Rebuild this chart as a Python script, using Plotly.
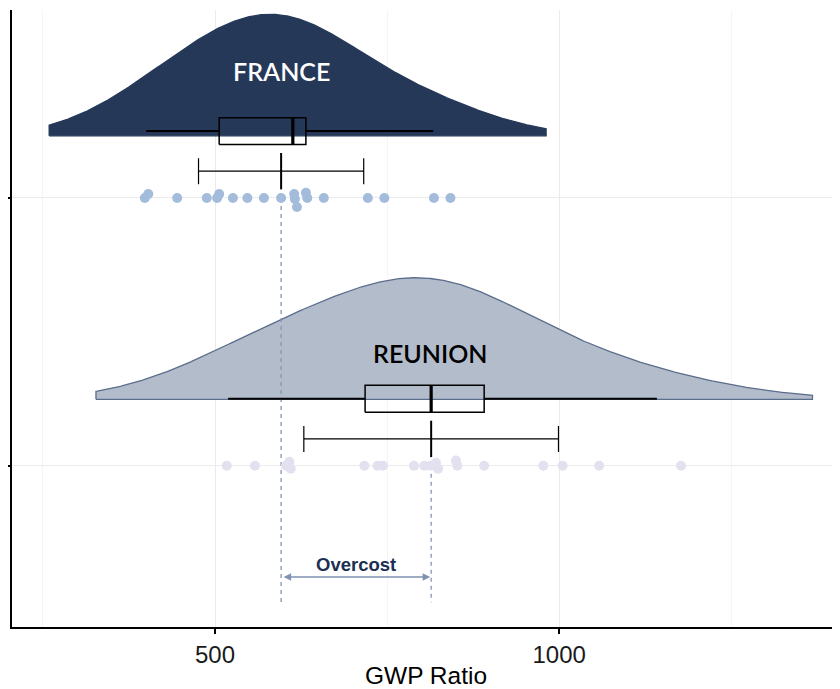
import numpy as np
import plotly.graph_objects as go

# ---------------- data ----------------
groups = ["FRANCE", "REUNION"]
group_pos = [2, 1]

france_points = [398, 403, 445, 488, 503, 506, 526, 547, 571, 596,
                 615, 616, 619, 632, 634, 658, 722, 746, 818, 842]
france_swarm = [0, 0.015, 0, 0, 0, 0.015, 0, 0, 0, 0,
                0.015, -0.004, -0.034, 0.019, 0, 0, 0, 0, 0, 0]
reunion_points = [517, 558, 603, 608, 610, 717, 736, 744, 789, 804,
                  813, 821, 824, 850, 852, 891, 977, 1005, 1058, 1177]
reunion_swarm = [0, 0, 0, 0.015, -0.011, 0, 0, 0, 0, 0,
                 0, 0.011, -0.011, 0.019, 0, 0, 0, 0, 0, 0]

density_range = [[259, 981], [327, 1368]]

box_q1 = [506, 718]
box_median = [613, 814]
box_q3 = [632, 891]
box_lower = [400, 519]
box_upper = [817, 1142]

group_mean = [596, 814]
group_sd = [120, 185]

# ---------------- styling ----------------
density_fill = ["#253858", "#b3bccb"]
density_line = ["#253858", "#5b6d8c"]
point_color = ["#a4bcdc", "#e3e1ef"]
label_color = ["white", "black"]
density_base = [0.232, 0.248]
density_height = 0.454
box_offset = 0.25
box_half = 0.05
err_offset = 0.1
dash_color = "#8296b3"


def nrd0(x):
    x = np.asarray(x, float)
    sd = x.std(ddof=1)
    q75, q25 = np.percentile(x, [75, 25])
    lo = min(sd, (q75 - q25) / 1.34)
    return 0.9 * lo * len(x) ** -0.2


fig = go.Figure()

all_points = [france_points, reunion_points]
all_swarm = [france_swarm, reunion_swarm]

# densities (half-eye)
for i, pts in enumerate(all_points):
    pts = np.asarray(pts, float)
    bw = 2 * nrd0(pts)
    grid = np.linspace(density_range[i][0], density_range[i][1], 500)
    dens = np.exp(-0.5 * ((grid[:, None] - pts[None, :]) / bw) ** 2).sum(axis=1)
    dens = dens / dens.max()
    base = group_pos[i] + density_base[i]
    xs = np.concatenate([[grid[0]], grid, [grid[-1], grid[0]]])
    ys = np.concatenate([[base], base + density_height * dens, [base, base]])
    fig.add_trace(go.Scatter(x=xs, y=ys, mode="lines", fill="toself",
                             fillcolor=density_fill[i],
                             line=dict(color=density_line[i], width=1.3),
                             hoverinfo="skip", showlegend=False))

# dashed mean lines (over densities)
for i in range(2):
    fig.add_trace(go.Scatter(x=[group_mean[i], group_mean[i]], y=[group_pos[i], 0.49],
                             mode="lines", line=dict(color=dash_color, width=1.3, dash="4px,4px"),
                             hoverinfo="skip", showlegend=False))

# boxes (drawn as lines so they sit above the densities)
for i in range(2):
    yc = group_pos[i] + box_offset
    fig.add_trace(go.Scatter(x=[box_lower[i], box_q1[i], None, box_q3[i], box_upper[i]],
                             y=[yc, yc, None, yc, yc], mode="lines",
                             line=dict(color="black", width=1.8),
                             hoverinfo="skip", showlegend=False))
    fig.add_trace(go.Scatter(x=[box_q1[i], box_q3[i], box_q3[i], box_q1[i], box_q1[i]],
                             y=[yc - box_half, yc - box_half, yc + box_half, yc + box_half, yc - box_half],
                             mode="lines", line=dict(color="black", width=1.5),
                             hoverinfo="skip", showlegend=False))
    fig.add_trace(go.Scatter(x=[box_median[i], box_median[i]],
                             y=[yc - box_half, yc + box_half],
                             mode="lines", line=dict(color="black", width=3.2),
                             hoverinfo="skip", showlegend=False))

# mean +- sd error bars
for i in range(2):
    fig.add_trace(go.Scatter(x=[group_mean[i]], y=[group_pos[i] + err_offset], mode="markers",
                             marker=dict(symbol="line-ns", size=26, color="black",
                                         line=dict(color="black", width=2)),
                             error_x=dict(type="data", array=[group_sd[i]], color="black",
                                          thickness=1.2, width=13),
                             hoverinfo="skip", showlegend=False))

# points
for i, pts in enumerate(all_points):
    fig.add_trace(go.Scatter(x=pts, y=[group_pos[i] + s for s in all_swarm[i]], mode="markers",
                             marker=dict(color=point_color[i], size=10),
                             hoverinfo="skip", showlegend=False))

# group labels
label_x = [597, 812]
label_y = [2.474, 1.421]
for i in range(2):
    fig.add_annotation(x=label_x[i], y=label_y[i],
                       text=groups[i], showarrow=False,
                       font=dict(family="Lato", size=25, color=label_color[i], weight=600))

# overcost arrow
fig.add_annotation(x=group_mean[1], y=0.584, ax=group_mean[0], ay=0.584,
                   xref="x", yref="y", axref="x", ayref="y", text="",
                   showarrow=True, arrowhead=2, arrowside="end+start", arrowsize=1,
                   arrowwidth=1.5, arrowcolor="#7f93b0", standoff=1, startstandoff=1)
fig.add_annotation(x=(group_mean[0] + group_mean[1]) / 2, y=0.632, text="<b>Overcost</b>",
                   showarrow=False,
                   font=dict(family="Liberation Sans", size=18.5, color="#1b2f52"))

# the page body adds an 8px offset; compensate in size/margins
fig.update_layout(
    width=832, height=681,
    margin=dict(l=4, r=0, t=2, b=62),
    paper_bgcolor="white", plot_bgcolor="white",
    showlegend=False,
    font=dict(family="Liberation Sans", color="black"),
)
fig.update_xaxes(range=[205, 1408], tick0=0, dtick=500, automargin=False,
                 showgrid=True, gridcolor="#ebebeb", gridwidth=1,
                 minor=dict(dtick=250, showgrid=True, gridcolor="#f5f5f5", gridwidth=1),
                 showline=True, linecolor="black", linewidth=1.8,
                 ticks="outside", ticklen=5, tickwidth=1.5, tickcolor="black",
                 tickfont=dict(size=24, color="#1a1a1a"),
                 title=dict(text="GWP Ratio", font=dict(size=24.5, color="black"), standoff=1),
                 zeroline=False)
fig.update_yaxes(range=[0.3975, 2.702], tickvals=group_pos, showticklabels=False, automargin=False,
                 showgrid=True, gridcolor="#ebebeb", gridwidth=1,
                 showline=True, linecolor="black", linewidth=1.8,
                 ticks="outside", ticklen=6, tickwidth=1.5, tickcolor="black",
                 zeroline=False)

fig.write_html("out.html")
